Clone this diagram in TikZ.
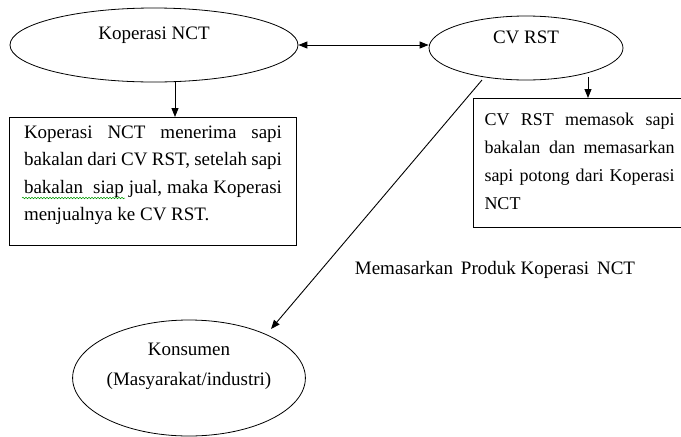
\documentclass[tikz,border=0pt]{standalone}
\usepackage{fontspec}
\setmainfont{Liberation Serif}
\usetikzlibrary{arrows.meta,calc,shapes.geometric,decorations.pathmorphing}

\begin{document}
\begin{tikzpicture}[x=1pt,y=1pt,>={Triangle[length=9pt,width=7pt]},
  every node/.style={font=\fontsize{19}{27.5}\selectfont},
  party/.style={ellipse,draw,line width=0.8pt,align=center,inner sep=0pt},
  notebox/.style={rectangle,draw,line width=1pt,anchor=north west,
    align=justify,inner sep=0pt}]
  \clip (0,0) rectangle (681,-437);

  % Parties
  \node[party,minimum width=288,minimum height=74] (kop) at (154,-45) {Koperasi NCT\\[-3pt] \mbox{}};
  \node[party,minimum width=194,minimum height=64] (cv) at (526,-48) {CV RST\\[-6pt] \mbox{}};
  \node[party,minimum width=232,minimum height=116] (kons) at (189,-378)
    {Konsumen\\[2pt] (Masyarakat/industri)\\ \mbox{}};

  % Notes
  \node[notebox,minimum width=287,minimum height=128,text width=258] (note1) at (9,-117)
    {Koperasi NCT menerima sapi\linebreak bakalan dari CV RST, setelah sapi\linebreak
     bakalan~ siap jual, maka Koperasi\linebreak menjualnya ke CV RST.\par\kern12pt};
  \node[notebox,minimum width=212,minimum height=129,text width=190,
    font=\fontsize{18}{28}\selectfont] (note2) at (473,-98)
    {CV RST memasok sapi\linebreak bakalan dan memasarkan\linebreak sapi potong dari Koperasi\linebreak NCT\hfill\mbox{}\par\kern4pt};

  \node (pasar) at (495,-270) {Memasarkan\, Produk Koperasi\, NCT};

  % Links
  \draw[<->,line width=0.9pt] (kop.east) -- (kop.east -| cv.west);
  \coordinate (kopfoot) at (175,-82);
  \draw[->,line width=0.9pt] (kopfoot) -- (kopfoot |- note1.north);
  \coordinate (cvfoot) at (588,-77);
  \draw[->,line width=0.9pt] (cvfoot) -- (cvfoot |- note2.north);
  \coordinate (cvleg) at (482,-80);
  \coordinate (konstop) at (271,-329);
  \draw[->,line width=0.9pt] (cvleg) -- (konstop);

  % spell-check mark
  \draw[green!60!black,line width=0.5pt,decorate,
    decoration={snake,amplitude=0.8pt,segment length=3pt}]
    ($(note1.north west)+(13,-81)$) -- ++(103,0);
\end{tikzpicture}
\end{document}
